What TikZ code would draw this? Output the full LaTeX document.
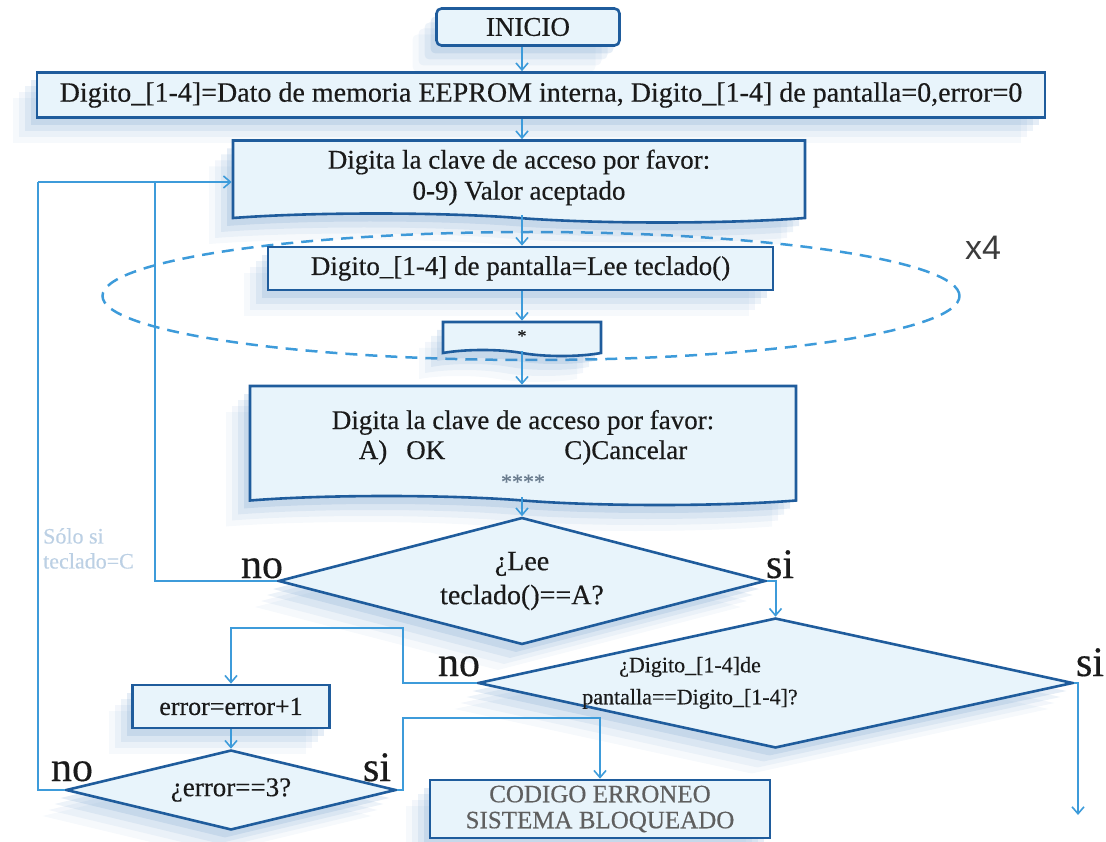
\documentclass[tikz,border=0pt]{standalone}
\usepackage{fontspec}
\setmainfont{Liberation Serif}[FakeBold=0.4]
\newfontfamily\labelsans{Liberation Sans}
\usetikzlibrary{shapes.geometric,shapes.symbols,shadows,arrows.meta}

\definecolor{edge}{HTML}{1F5C9C}
\definecolor{link}{HTML}{3D9BDA}
\definecolor{boxfill}{HTML}{E8F4FB}
\definecolor{shade}{HTML}{4F86C0}
\definecolor{ink}{HTML}{1A1A1A}
\definecolor{faint}{HTML}{BCD0E4}
\definecolor{stars}{HTML}{6A7C8E}

\tikzset{
  softshadow/.style={
    drop shadow={shadow xshift=-24pt, shadow yshift=-26pt, fill=shade, opacity=0.05},
    drop shadow={shadow xshift=-18pt, shadow yshift=-20pt, fill=shade, opacity=0.07},
    drop shadow={shadow xshift=-12pt, shadow yshift=-14pt, fill=shade, opacity=0.10},
    drop shadow={shadow xshift=-6pt, shadow yshift=-8pt, fill=shade, opacity=0.15}},
  proc/.style={draw=edge, line width=2.6pt, fill=boxfill, softshadow, text=ink,
    align=center, inner sep=2pt, font=\fontsize{27}{31}\selectfont},
  disp/.style={proc, tape, tape bend top=none, tape bend bottom=out and in,
    tape bend height=9pt},
  cond/.style={proc, diamond, inner sep=0pt},
  wire/.style={draw=link, line width=2pt},
  arr/.style={wire, -{Straight Barb[length=7pt,width=12pt,line width=1.6pt]}},
  tag/.style={text=ink, anchor=base, inner sep=0pt, font=\fontsize{42}{42}\selectfont},
  loopring/.style={draw=link, line width=2.5pt, dash pattern=on 12pt off 8pt,
    ellipse, inner sep=0pt, minimum width=857pt, minimum height=128pt}
}

\begin{document}
\begin{tikzpicture}[x=1pt,y=-1pt]
\useasboundingbox (0,0) rectangle (1106,842);

% repetition ring around the key-reading steps
\node[loopring] (rep) at (531,296) {};
\node[text=ink!85, font=\labelsans\fontsize{34}{34}\selectfont] (times) at (983,248) {x4};

% spine of the flow
\coordinate (spine) at (522,0);
\node[proc, rounded corners=5pt, minimum width=183pt, minimum height=37pt,
      font=\fontsize{27}{30}\selectfont] (ini) at (528,27) {INICIO};
\node[proc, minimum width=1008pt, minimum height=45pt,
      font=\fontsize{28}{32}\selectfont] (init) at (541,95)
  {Digito\_[1-4]=Dato de memoria EEPROM interna, Digito\_[1-4] de pantalla=0,error=0};
\node[disp, minimum width=572pt, minimum height=82pt] (d1) at (519,177)
  {\rule{0pt}{20pt}Digita la clave de acceso por favor:\\0-9) Valor aceptado};
\node[proc, minimum width=505pt, minimum height=43pt] (rd) at (520.5,268.5)
  {Digito\_[1-4] de pantalla=Lee teclado()};
\node[disp, minimum width=158pt, minimum height=34pt, tape bend height=6pt,
      font=\fontsize{18}{20}\selectfont] (st) at (522,336) {*};
\node[disp, minimum width=546pt, minimum height=119pt,
      font=\fontsize{27}{30}\selectfont] (d2) at (523,441)
  {\rule{0pt}{36pt}Digita la clave de acceso por favor:\\
   A)\hspace{19pt}OK\hspace{119pt}C)Cancelar\\
   {\color{stars}\fontsize{22}{30}\selectfont ****}};
\node[cond, shape aspect=3.83, minimum width=487pt, minimum height=127pt,
      font=\fontsize{28}{34}\selectfont] (q1) at (522,581) {¿Lee\\teclado()==A?};
\node[cond, shape aspect=4.58, minimum width=595pt, minimum height=130pt] (q2) at (775.5,683) {};
\node[text=ink, align=center, inner sep=0pt, font=\fontsize{22}{32}\selectfont]
  (q2txt) at (690,683) {¿Digito\_[1-4]de\\pantalla==Digito\_[1-4]?};
\node[proc, minimum width=197pt, minimum height=43pt,
      font=\fontsize{26}{30}\selectfont] (inc) at (231,706.5) {error=error+1};
\node[cond, shape aspect=4.12, minimum width=330pt, minimum height=80pt,
      font=\fontsize{27}{30}\selectfont] (q3) at (231,790) {¿error==3?};
\node[proc, minimum width=340pt, minimum height=58pt, text=ink!70,
      font=\fontsize{25}{26}\selectfont] (blk) at (600,809)
  {CODIGO ERRONEO\\SISTEMA BLOQUEADO};

% junction points of the routed connectors
\coordinate (jn) at (155,182);
\coordinate (jl) at (38,182);
\coordinate (c1) at (403,628);
\coordinate (c2) at (403,718);
\coordinate (out) at (1078,815);

% main sequence
\draw[arr] (ini.south -| spine) -- (init.north -| spine);
\draw[arr] (init.south -| spine) -- (d1.north -| spine);
\draw[arr] (d1.south -| spine) -- (rd.north -| spine);
\draw[arr] (rd.south -| spine) -- (st.north -| spine);
\draw[arr] (st.south -| spine) -- (d2.north -| spine);
\draw[arr] (d2.south -| spine) -- (q1.north);

% branches
\draw[arr] (q1.east) -| (q2.north);
\draw[wire] (q1.west) -| (jn);
\draw[wire] (q3.west) -| (jl);
\draw[arr] (jl) -- (jl -| d1.west);
\draw[arr] (q2.west) -| (c1) -| (inc.north);
\draw[arr] (q2.east) -| (out);
\draw[arr] (inc.south) -- (q3.north);
\draw[arr] (q3.east) -| (c2) -| (blk.north);

% branch labels
\node[tag] (q1no) at (262,578) {no};
\node[tag] (q1si) at (780,578) {si};
\node[tag] (q2no) at (459,676) {no};
\node[tag] (q2si) at (1090,676) {si};
\node[tag] (q3no) at (72,781) {no};
\node[tag] (q3si) at (377,781) {si};

\node[text=faint, anchor=north west, align=left, inner sep=0pt,
      font=\fontsize{22}{25}\selectfont] (cancel) at (43,528) {Sólo si\\teclado=C};
\end{tikzpicture}
\end{document}
